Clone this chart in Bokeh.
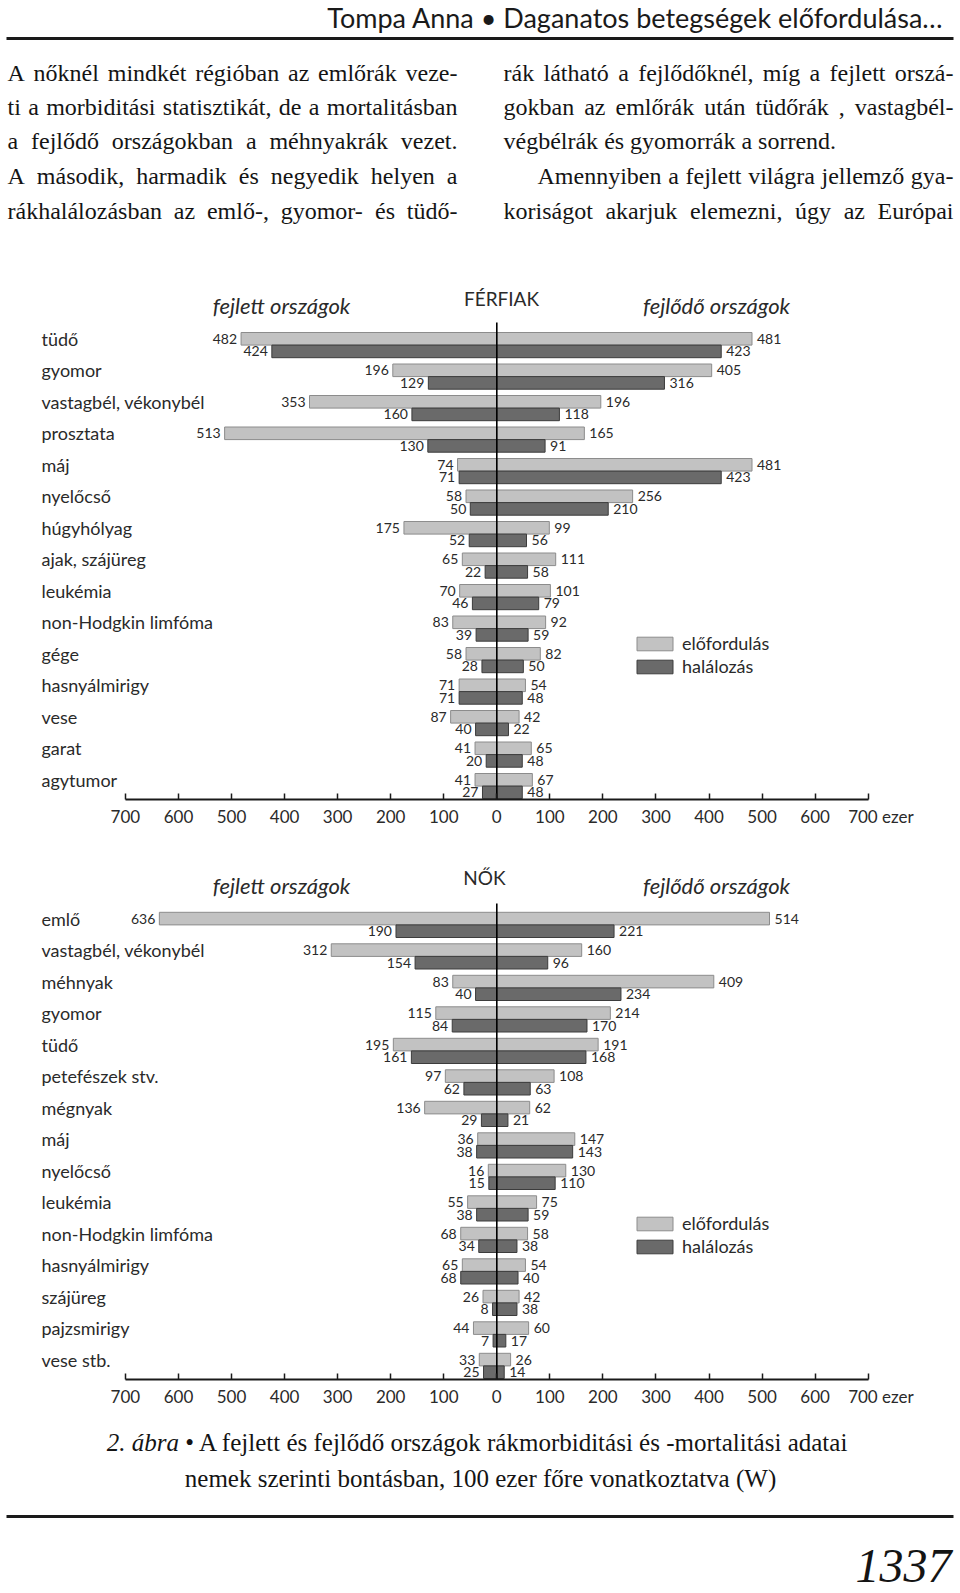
import unicodedata
from bokeh.plotting import figure
from bokeh.layouts import column
from bokeh.models import Range1d, ColumnDataSource, FixedTicker, Legend, LegendItem
from bokeh.embed import file_html
from bokeh.resources import INLINE
from bokeh.core.properties import value

# ---------------- data ----------------
male_categories = ["tüdő", "gyomor", "vastagbél, vékonybél", "prosztata", "máj", "nyelőcső",
                   "húgyhólyag", "ajak, szájüreg", "leukémia", "non-Hodgkin limfóma", "gége",
                   "hasnyálmirigy", "vese", "garat", "agytumor"]
male_developed_incidence = [482, 196, 353, 513, 74, 58, 175, 65, 70, 83, 58, 71, 87, 41, 41]
male_developed_mortality = [424, 129, 160, 130, 71, 50, 52, 22, 46, 39, 28, 71, 40, 20, 27]
male_developing_incidence = [481, 405, 196, 165, 481, 256, 99, 111, 101, 92, 82, 54, 42, 65, 67]
male_developing_mortality = [423, 316, 118, 91, 423, 210, 56, 58, 79, 59, 50, 48, 22, 48, 48]

female_categories = ["emlő", "vastagbél, vékonybél", "méhnyak", "gyomor", "tüdő", "petefészek stv.",
                     "mégnyak", "máj", "nyelőcső", "leukémia", "non-Hodgkin limfóma",
                     "hasnyálmirigy", "szájüreg", "pajzsmirigy", "vese stb."]
female_developed_incidence = [636, 312, 83, 115, 195, 97, 136, 36, 16, 55, 68, 65, 26, 44, 33]
female_developed_mortality = [190, 154, 40, 84, 161, 62, 29, 38, 15, 38, 34, 68, 8, 7, 25]
female_developing_incidence = [514, 160, 409, 214, 191, 108, 62, 147, 130, 75, 58, 54, 42, 60, 26]
female_developing_mortality = [221, 96, 234, 170, 168, 63, 21, 143, 110, 59, 38, 40, 38, 17, 14]

tick_values = list(range(-700, 701, 100))
tick_labels = {t: str(abs(t)) for t in tick_values}
tick_labels[700] = "\u2003\u2003700 ezer"
legend_labels = ["előfordulás", "halálozás"]

header_text = "Tompa Anna • Daganatos betegségek előfordulása…"
left_column_lines = [
    "A nőknél mindkét régióban az emlőrák veze-",
    "ti a morbiditási statisztikát, de a mortalitásban",
    "a fejlődő országokban a méhnyakrák vezet.",
    "A második, harmadik és negyedik helyen a",
    "rákhalálozásban az emlő-, gyomor- és tüdő-",
]
right_column_lines = [
    "rák látható a fejlődőknél, míg a fejlett orszá-",
    "gokban az emlőrák után tüdőrák , vastagbél-",
    "végbélrák és gyomorrák a sorrend.",
    "Amennyiben a fejlett világra jellemző gya-",
    "koriságot akarjuk elemezni, úgy az Európai",
]
caption_italic = "2. ábra"
caption_line1 = "• A fejlett és fejlődő országok rákmorbiditási és -mortalitási adatai"
caption_line2 = "nemek szerinti bontásban, 100 ezer főre vonatkoztatva (W)"
page_number = "1337"

# ---------------- layout constants ----------------
W = 960
X0 = 496.3          # page x of value 0
S = 371.4 / 700.0   # px per unit
PITCH = 31.5
SANS = "Lato"
SERIF = "Liberation Serif"
LIGHT, LIGHT_EDGE = "#c2c2c2", "#8c8c8c"
DARK, DARK_EDGE = "#6a6a6a", "#3c3c3c"
TXT = "#2a2a2a"
INK = "#141414"

# Times-compatible advance widths (1/1000 em) for text layout
_ROMAN = dict(zip("abcdefghijklmnopqrstuvwxyz",
                  [444, 500, 444, 500, 444, 333, 500, 500, 278, 278, 500, 278, 778, 500, 500,
                   500, 500, 333, 389, 278, 500, 500, 722, 500, 500, 444]))
_ROMAN.update(dict(zip("ABCDEFGHIJKLMNOPQRSTUVWXYZ",
                       [722, 667, 667, 722, 611, 556, 722, 722, 333, 389, 722, 611, 889, 722, 722,
                        556, 722, 667, 556, 611, 722, 722, 944, 722, 722, 611])))
_ROMAN.update({" ": 250, ",": 250, ".": 250, "-": 333, "(": 333, ")": 333, "•": 350,
               "…": 1000, ":": 278, ";": 278})
_ROMAN.update({d: 500 for d in "0123456789"})
_ITALIC = dict(zip("abcdefghijklmnopqrstuvwxyz",
                   [500, 500, 444, 500, 444, 278, 500, 500, 278, 278, 444, 278, 722, 500, 500,
                    500, 500, 389, 389, 278, 500, 444, 667, 444, 444, 389]))
_ITALIC.update({" ": 250, ".": 250})
_ITALIC.update({d: 500 for d in "0123456789"})


def text_width(s, size, italic=False):
    table = _ITALIC if italic else _ROMAN
    tot = 0
    for ch in s:
        base = unicodedata.normalize("NFD", ch)[0]
        tot += table.get(base, _ROMAN.get(base, 500))
    return tot * size / 1000.0


def px2x(px):
    return (px - X0) / S


def text_fig(top, bottom):
    p = figure(width=W, height=bottom - top, x_range=Range1d(0, W),
               y_range=Range1d(bottom, top), toolbar_location=None, output_backend="svg",
               min_border=0, x_axis_location=None, y_axis_location=None,
               outline_line_color=None)
    p.grid.visible = False
    return p


def justified(p, line, x_start, x_end, y, size, justify=True):
    words = line.split(" ")
    widths = [text_width(w, size) for w in words]
    if justify and len(words) > 1:
        gap = (x_end - x_start - sum(widths)) / (len(words) - 1)
    else:
        gap = text_width(" ", size)
    xs, cur = [], x_start
    for w in widths:
        xs.append(cur)
        cur += w + gap
    p.text(x=xs, y=[y] * len(words), text=words, text_font=value(SERIF),
           text_font_size=f"{size}px", text_color=INK, text_align="left",
           text_baseline="middle")


def chart(cats, dinc, dmort, ginc, gmort, top, bottom, row0, axis_py, title, title_xy, sub_y, vline_top):
    r_top = (top - row0) / PITCH
    r_bot = (axis_py - row0) / PITCH

    def py2r(py):
        return (py - row0) / PITCH

    p = figure(width=W, height=bottom - top,
               x_range=Range1d(px2x(0), px2x(W)),
               y_range=Range1d(r_bot, r_top),
               toolbar_location=None, output_backend="svg",
               min_border=0, min_border_bottom=bottom - axis_py,
               y_axis_location=None, outline_line_color=None)
    p.grid.visible = False

    rows = list(range(len(cats)))
    src = ColumnDataSource(dict(
        cat=cats,
        y_inc=[r - 0.2 for r in rows],
        y_mort=[r + 0.2 for r in rows],
        dinc=[-v for v in dinc], dmort=[-v for v in dmort],
        ginc=ginc, gmort=gmort,
        dinc_t=[str(v) for v in dinc], dmort_t=[str(v) for v in dmort],
        ginc_t=[str(v) for v in ginc], gmort_t=[str(v) for v in gmort],
    ))

    p.hbar(y="y_inc", left="dinc", right=0, height=0.4, fill_color=LIGHT,
           line_color=LIGHT_EDGE, line_width=1, source=src)
    p.hbar(y="y_mort", left="dmort", right=0, height=0.4, fill_color=DARK,
           line_color=DARK_EDGE, line_width=1, source=src)
    r_light = p.hbar(y="y_inc", left=0, right="ginc", height=0.4, fill_color=LIGHT,
                     line_color=LIGHT_EDGE, line_width=1, source=src)
    r_dark = p.hbar(y="y_mort", left=0, right="gmort", height=0.4, fill_color=DARK,
                    line_color=DARK_EDGE, line_width=1, source=src)

    common = dict(text_font=value(SANS), text_font_size="14px", text_color=TXT,
                  text_baseline="middle", source=src)
    p.text(x="dinc", y="y_inc", text="dinc_t", x_offset=-4, text_align="right", **common)
    p.text(x="dmort", y="y_mort", text="dmort_t", x_offset=-4, text_align="right", **common)
    p.text(x="ginc", y="y_inc", text="ginc_t", x_offset=5, text_align="left", **common)
    p.text(x="gmort", y="y_mort", text="gmort_t", x_offset=5, text_align="left", **common)

    # category names
    p.text(x=px2x(41), y="y_inc", text="cat", text_font=value(SANS), text_font_size="18px",
           text_color=TXT, text_baseline="middle", text_align="left", source=src)

    # centre line
    p.segment(x0=0, y0=py2r(vline_top), x1=0, y1=r_bot, line_color="black", line_width=1.6)

    # titles
    p.text(x=[px2x(title_xy[0])], y=[py2r(title_xy[1])], text=[title], text_font=value(SANS),
           text_font_size="19px", text_color=TXT, text_align="center", text_baseline="middle")
    p.text(x=[px2x(281), px2x(716)], y=[py2r(sub_y), py2r(sub_y)],
           text=["fejlett országok", "fejlődő országok"], text_font=value(SANS),
           text_font_style="italic", text_font_size="22px", text_color=TXT,
           text_align="center", text_baseline="middle")

    # x axis
    ax = p.xaxis[0]
    ax.ticker = FixedTicker(ticks=tick_values)
    ax.major_label_overrides = tick_labels
    ax.bounds = (-700, 700)
    ax.axis_line_width = 2
    ax.axis_line_color = "#1a1a1a"
    ax.major_tick_in = 6
    ax.major_tick_out = 0
    ax.major_tick_line_width = 1.5
    ax.major_tick_line_color = "#1a1a1a"
    ax.minor_tick_line_color = None
    ax.major_label_standoff = 6
    ax.major_label_text_font = SANS
    ax.major_label_text_font_size = "17px"
    ax.major_label_text_color = TXT

    legend = Legend(items=[LegendItem(label=value(legend_labels[0]), renderers=[r_light]),
                           LegendItem(label=value(legend_labels[1]), renderers=[r_dark])],
                    location=(632, 122), padding=0, margin=0, spacing=1,
                    glyph_width=45, glyph_height=17, label_standoff=5, label_height=14,
                    label_text_font=SANS, label_text_font_size="18px", label_text_color=TXT,
                    border_line_alpha=0, background_fill_alpha=0)
    p.add_layout(legend)
    return p


# ---------------- header ----------------
head = text_fig(0, 270)
head.text(x=[943], y=[16.5], text=[header_text], text_font=value(SANS), text_font_size="27px",
          text_color="#1a1a1a", text_align="right", text_baseline="middle")
head.segment(x0=6, y0=38, x1=953, y1=38, line_color="#1a1a1a", line_width=3)
para_y = [72.5, 106.5, 140.5, 175.5, 210.5]
for i, line in enumerate(left_column_lines):
    justified(head, line, 7, 457, para_y[i], 24)
right_starts = [503, 503, 503, 537, 503]
for i, line in enumerate(right_column_lines):
    justified(head, line, right_starts[i], 953, para_y[i], 24, justify=(i != 2))

# ---------------- charts ----------------
male = chart(male_categories, male_developed_incidence, male_developed_mortality,
             male_developing_incidence, male_developing_mortality,
             top=270, bottom=840, row0=344.6, axis_py=799, title="FÉRFIAK",
             title_xy=(501, 298), sub_y=305, vline_top=322)
female = chart(female_categories, female_developed_incidence, female_developed_mortality,
               female_developing_incidence, female_developing_mortality,
               top=840, bottom=1410, row0=924.4, axis_py=1379, title="NŐK",
               title_xy=(484, 877), sub_y=885, vline_top=903)

# ---------------- footer ----------------
foot = text_fig(1410, 1593)
CAP = 25
wi = text_width(caption_italic, CAP, italic=True)
wsp = text_width(" ", CAP)
wn = text_width(caption_line1, CAP)
x_cap = 478 - (wi + wsp + wn) / 2
foot.text(x=[x_cap], y=[1442], text=[caption_italic], text_font=value(SERIF), text_font_style="italic",
          text_font_size=f"{CAP}px", text_color=INK, text_align="left", text_baseline="middle")
foot.text(x=[x_cap + wi + wsp], y=[1442], text=[caption_line1], text_font=value(SERIF),
          text_font_size=f"{CAP}px", text_color=INK, text_align="left", text_baseline="middle")
foot.text(x=[480], y=[1478], text=[caption_line2], text_font=value(SERIF),
          text_font_size=f"{CAP}px", text_color=INK, text_align="center", text_baseline="middle")
foot.segment(x0=6, y0=1516, x1=953, y1=1516, line_color="#1a1a1a", line_width=3)
foot.text(x=[951], y=[1565], text=[page_number], text_font=value(SERIF), text_font_style="italic",
          text_font_size="48px", text_color=INK, text_align="right", text_baseline="middle")

page = column(head, male, female, foot, spacing=0)
open("out.html", "w").write(file_html(page, INLINE))
